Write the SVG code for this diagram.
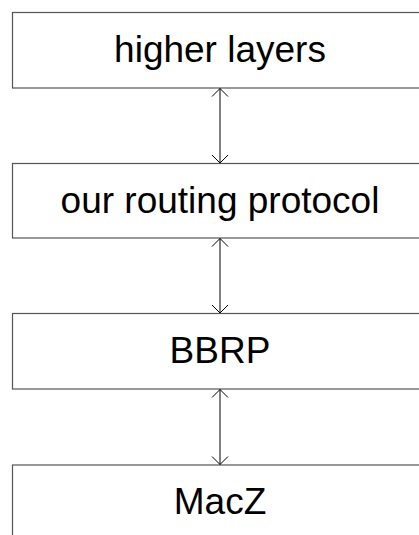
<svg xmlns="http://www.w3.org/2000/svg" width="419" height="535" viewBox="0 0 419 535">
<defs>
<style>
.box{fill:#fff;stroke:#555;stroke-width:1.2}
.lbl{font-family:"Liberation Sans",Arial,sans-serif;font-size:37px;fill:#000;text-anchor:middle}
.conn{stroke:#000;stroke-width:1;fill:none}
</style>
<marker id="ah" viewBox="0 0 10 18" refX="9.5" refY="9" markerWidth="10" markerHeight="18" markerUnits="userSpaceOnUse" orient="auto-start-reverse">
<path d="M1.5,1 L9.5,9 L1.5,17" fill="none" stroke="#000" stroke-width="1"/>
</marker>
</defs>
<rect width="419" height="535" fill="#fff"/>
<g id="n1"><rect class="box" x="12.5" y="12.5" width="416" height="75.5"/><text class="lbl" x="220" y="62">higher layers</text></g>
<g id="n2"><rect class="box" x="12.5" y="163.5" width="416" height="74.5"/><text class="lbl" x="220" y="213">our routing protocol</text></g>
<g id="n3"><rect class="box" x="12.5" y="313.5" width="416" height="75.5"/><text class="lbl" x="220" y="363">BBRP</text></g>
<g id="n4"><rect class="box" x="12.5" y="465" width="416" height="80"/><text class="lbl" x="220" y="514">MacZ</text></g>
<g id="connectors">
<line class="conn" x1="220" y1="88.5" x2="220" y2="163" marker-start="url(#ah)" marker-end="url(#ah)"/>
<line class="conn" x1="220" y1="238.5" x2="220" y2="313" marker-start="url(#ah)" marker-end="url(#ah)"/>
<line class="conn" x1="220" y1="389.5" x2="220" y2="464.5" marker-start="url(#ah)" marker-end="url(#ah)"/>
</g>
</svg>
